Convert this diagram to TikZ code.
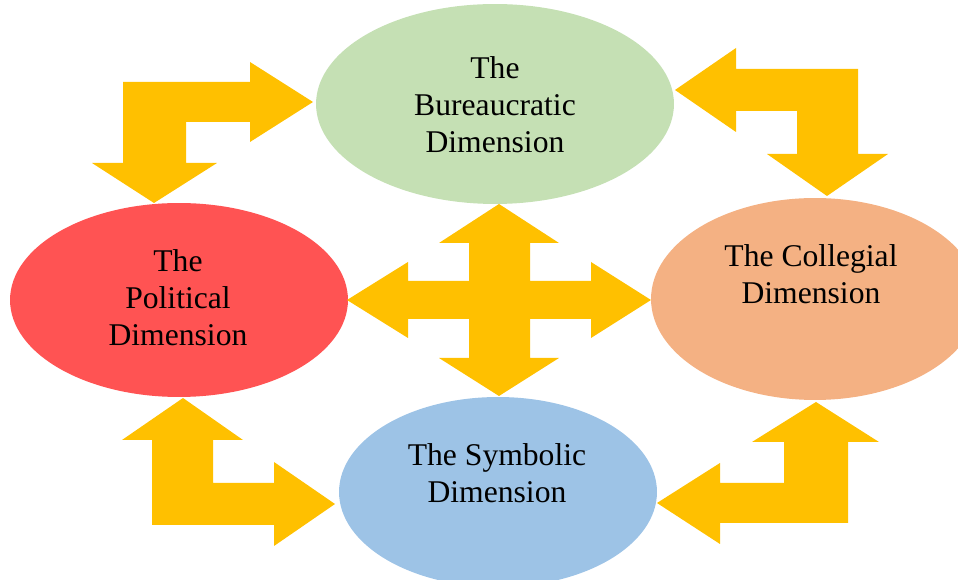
\documentclass[tikz,border=0pt]{standalone}
\usepackage{fontspec}
\setmainfont{Liberation Serif}
\usetikzlibrary{shapes.geometric}

\definecolor{burgreen}{HTML}{C5E0B4}
\definecolor{polred}{HTML}{FF5353}
\definecolor{colorange}{HTML}{F4B183}
\definecolor{symblue}{HTML}{9DC3E6}
\definecolor{arrowgold}{HTML}{FFC000}

\begin{document}
\begin{tikzpicture}[x=0.02cm,y=-0.02cm,
    dim/.style={ellipse, inner sep=0pt, draw=none},
    lbl/.style={align=center, font=\fontsize{18}{21}\selectfont},
    flow/.style={fill=arrowgold}]
    \useasboundingbox (0,0) rectangle (958,580);
    \clip (0,0) rectangle (958,580);

    \node[dim, fill=burgreen, minimum width=7.16cm, minimum height=4cm] (bur) at (495,104) {};
    \node[dim, fill=polred, minimum width=6.76cm, minimum height=3.88cm] (pol) at (179,300) {};
    \node[dim, fill=colorange, minimum width=6.56cm, minimum height=4.04cm] (col) at (815,299) {};
    \node[dim, fill=symblue, minimum width=6.36cm, minimum height=3.8cm] (sym) at (498,492) {};

    \node[lbl] (burtext) at (495,105) {The\\Bureaucratic\\Dimension};
    \node[lbl] (poltext) at (178,298) {The\\Political\\Dimension};
    \node[lbl] (coltext) at (811,274) {The Collegial\\Dimension};
    \node[lbl] (symtext) at (497,473) {The Symbolic\\Dimension};

    \fill[flow] (313,102) -- (250,62) -- (250,82) -- (123,82) -- (123,163) -- (92,163)
      -- (154,203) -- (217,163) -- (186,163) -- (186,122) -- (250,122) -- (250,142) -- cycle;
    \fill[flow] (675,90) -- (736,48) -- (736,69) -- (858,69) -- (858,154) -- (888,154)
      -- (827,196) -- (767,154) -- (797,154) -- (797,111) -- (736,111) -- (736,132) -- cycle;
    \fill[flow] (499,204) -- (559,243) -- (530,243) -- (530,281) -- (591,281) -- (591,262)
      -- (651,300) -- (591,338) -- (591,319) -- (530,319) -- (530,358) -- (559,358)
      -- (499,396) -- (439,358) -- (469,358) -- (469,319) -- (408,319) -- (408,338)
      -- (347,300) -- (408,262) -- (408,281) -- (469,281) -- (469,243) -- (439,243) -- cycle;
    \fill[flow] (183,398) -- (243,440) -- (213,440) -- (213,483) -- (274,483) -- (274,462)
      -- (335,504) -- (274,546) -- (274,525) -- (152,525) -- (152,440) -- (122,440) -- cycle;
    \fill[flow] (816,402) -- (879,442) -- (848,442) -- (848,523) -- (720,523) -- (720,544)
      -- (657,503) -- (720,463) -- (720,483) -- (784,483) -- (784,442) -- (752,442) -- cycle;
\end{tikzpicture}
\end{document}
